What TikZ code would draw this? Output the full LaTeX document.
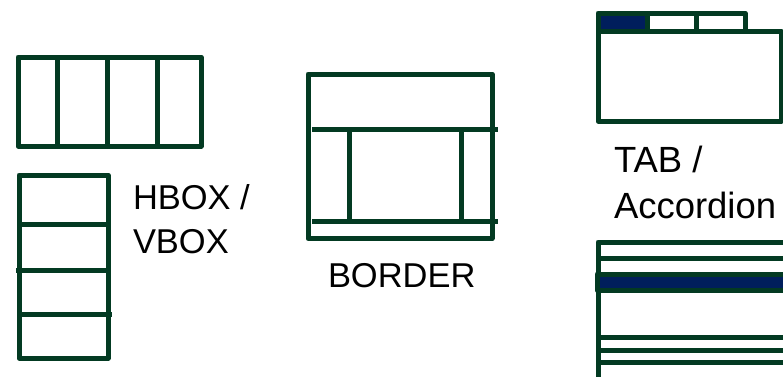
\documentclass[tikz,border=0pt]{standalone}
\usepackage{fontspec}
\setmainfont{Liberation Sans}
\definecolor{frame}{RGB}{3,58,34}
\definecolor{navyfill}{RGB}{0,30,92}
\begin{document}
\begin{tikzpicture}[x=1bp,y=-1bp,
  wire/.style={draw=frame,line width=5bp,line join=round},
  lbl/.style={anchor=base west,inner sep=0pt,outer sep=0pt,font=\fontsize{34.6}{43}\selectfont,text=black},
  biglbl/.style={lbl,font=\fontsize{36.6}{45}\selectfont}]
\useasboundingbox (0,0) rectangle (783,376);
\clip (0,0) rectangle (783,376);
% HBOX
\draw[wire] (18,57) rectangle (201,146);
\draw[wire] (57,57) -- (57,146);
\draw[wire] (107,57) -- (107,146);
\draw[wire] (157,57) -- (157,146);
% VBOX
\draw[wire] (19,175) rectangle (108,358);
\draw[wire] (20.5,224) -- (107,224);
\draw[wire] (16,270) -- (107,270);
\draw[wire] (20.5,314) -- (112,314);
\node[lbl] (hbox) at (133,209) {HBOX /};
\node[lbl] (vbox) at (133,253) {VBOX};
% BORDER
\draw[wire] (308,74) rectangle (492,238.5);
\draw[wire] (312,129) -- (498,129);
\draw[wire] (312,221) -- (498,221);
\draw[wire] (349,129) -- (349,221);
\draw[wire] (461,129) -- (461,221);
\node[lbl] (border) at (328,287) {BORDER};
% TAB
\draw[wire,fill=navyfill] (598,13) rectangle (647.5,31.5);
\draw[wire] (647.5,31.5) -- (647.5,13) -- (696,13) -- (696,31.5);
\draw[wire] (696,13) -- (745,13) -- (745,31.5);
\draw[wire] (598,31.5) rectangle (781,121);
\node[biglbl] (tab) at (614,172) {TAB /};
\node[biglbl] (acc) at (614,218) {Accordion};
% Accordion
\draw[wire] (598,242) rectangle (800,390);
\draw[wire] (598,258) -- (800,258);
\draw[wire,fill=navyfill] (597,274) rectangle (800,290);
\draw[wire] (598,337) -- (800,337);
\draw[wire] (598,350) -- (800,350);
\draw[wire] (598,362) -- (800,362);
\end{tikzpicture}
\end{document}
